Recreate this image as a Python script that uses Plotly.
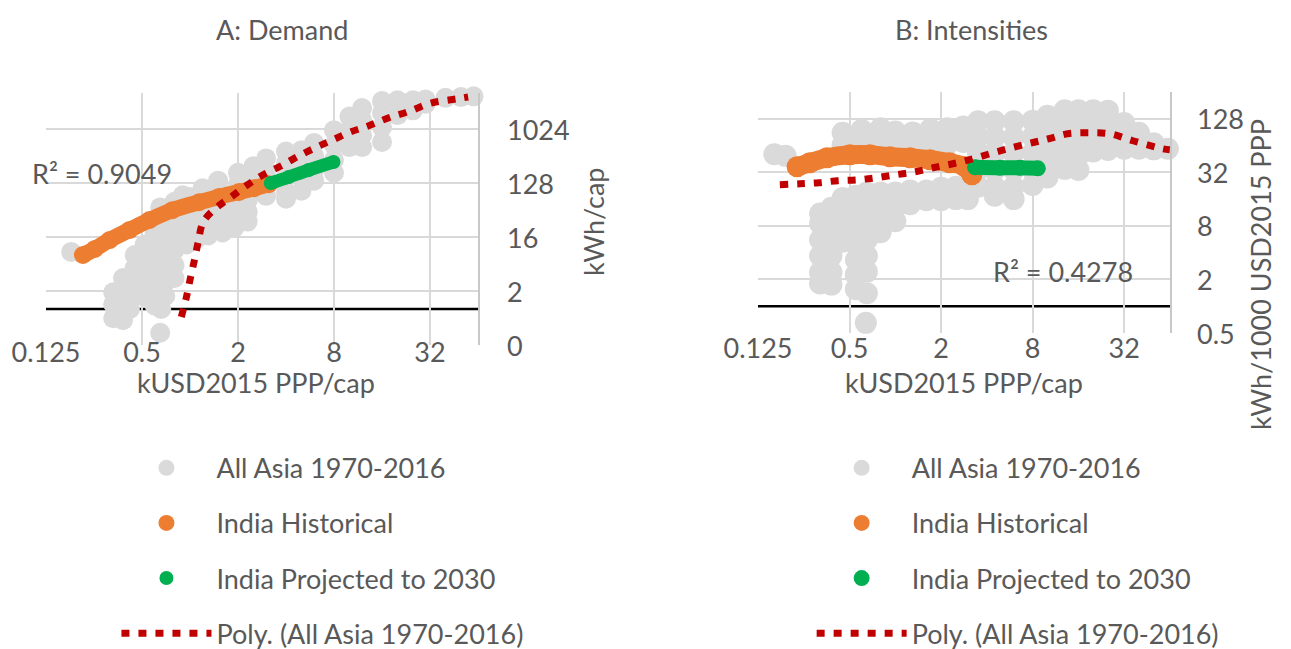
import math
import plotly.graph_objects as go

FONT = "Lato, 'Open Sans', Arial, sans-serif"
TXT = "#595959"
GRAY = "#dadada"
ORANGE = "#ed7d31"
GREEN = "#00b050"
RED = "#c00000"

# ---------------- Panel A: Demand (kWh/cap vs kUSD2015 PPP/cap) ----------------
a_asia_x = [0.18,
            0.33, 0.33, 0.33,
            0.38, 0.38, 0.38, 0.38,
            0.42,
            0.45, 0.45, 0.45, 0.45,
            0.52, 0.52, 0.52, 0.52, 0.52,
            0.6, 0.6, 0.6, 0.6, 0.6, 0.6,
            0.65, 0.66,
            0.7, 0.7, 0.7, 0.7, 0.7, 0.7,
            0.8, 0.8, 0.8, 0.8, 0.8,
            0.95, 0.95, 0.95,
            1.1, 1.1, 1.1,
            1.3, 1.3, 1.3,
            1.6, 1.6, 1.6,
            1.9, 1.9, 1.9,
            2.3, 2.3, 2.3,
            0.65, 0.8, 1.0, 1.2, 1.5,
            0.9, 0.9,
            1.2, 1.2, 1.2,
            1.5, 1.5, 1.5,
            2, 2, 2,
            2.5, 2.5, 2.5,
            3, 3, 3, 3,
            4, 4, 4, 4, 4,
            5, 5, 5, 5,
            6, 6, 6, 6,
            8, 8, 8, 8,
            10, 10, 10,
            12, 12, 12, 12,
            16, 16, 16, 16,
            20, 20,
            25, 25,
            30, 30,
            40, 50, 60]
a_asia_y = [9,
            1.9, 1.2, 0.7,
            3.3, 2, 1.2, 0.65,
            1.0,
            8, 4.9, 2.8, 1.65,
            12, 7, 4.2, 2.3, 1.6,
            19, 11, 6.6, 3.7, 2.1, 1.15,
            0.4, 1.0,
            24, 14, 8.3, 4.9, 2.8, 1.65,
            28, 17, 9.7, 5.4, 3.3,
            36, 21, 12,
            42, 25, 15,
            45, 28, 17,
            51, 31, 19,
            57, 36, 23,
            66, 42, 29,
            50, 62, 75, 90, 110,
            80, 50,
            105, 66, 45,
            140, 90, 55,
            190, 120, 75,
            245, 155, 90,
            330, 210, 130, 78,
            430, 275, 160, 90, 70,
            450, 280, 160, 95,
            600, 360, 210, 140,
            980, 550, 310, 190,
            1650, 980, 510,
            2300, 1450, 800, 510,
            3000, 1900, 1100, 620,
            3100, 1750,
            3100, 2100,
            3200, 2700,
            3400, 3500, 3600]

a_india_x = [0.213, 0.253, 0.313, 0.418, 0.557, 0.775, 1.14, 1.52, 2.03, 2.52, 3.12]
a_india_y = [8.0, 10.1, 14.2, 21, 30.8, 45, 61, 75, 90.5, 105, 122]

a_proj_x = [3.21, 4.16, 5.55, 7.94]
a_proj_y = [128, 161, 211, 287]

a_poly_x = [0.882, 0.947, 1.003, 1.063, 1.126, 1.21, 1.458, 1.81, 2.28, 2.86, 3.71,
            4.67, 6.05, 7.83, 10.1, 13.1, 17.5, 24, 32.5, 46.5, 55.5]
a_poly_y = [0.735, 1.53, 3.17, 6.35, 13.2, 28.5, 49, 74.7, 118, 174, 246,
            348, 492, 671, 911, 1150, 1565, 2048, 2780, 3250, 3510]

# ---------------- Panel B: Intensities ----------------
b_asia_x = [0.16, 0.19,
            0.45, 0.45, 0.52, 0.6, 0.6, 0.7, 0.8, 0.8, 0.9, 1.0, 1.0, 1.15, 1.3, 1.3, 1.5,
            1.7, 1.7, 1.95, 2.2, 2.2, 2.5, 2.8, 2.8,
            3.5, 3.5, 3.5, 3.5, 3.5,
            4.5, 4.5, 4.5, 4.5, 4.5, 4.5,
            6, 6, 6, 6, 6, 6,
            8, 8, 8, 8, 8,
            10, 10, 10, 10, 10,
            13, 13, 13, 13, 13,
            16, 16, 16, 16, 16,
            20, 20, 20, 20,
            25, 25, 25, 25,
            32, 32, 32,
            40, 40, 50, 50, 62,
            0.32, 0.32, 0.32, 0.32, 0.32, 0.32,
            0.38, 0.38, 0.38, 0.38, 0.38, 0.38,
            0.45, 0.45, 0.45, 0.45,
            0.55, 0.55, 0.55, 0.55, 0.55, 0.55, 0.55,
            0.65, 0.65, 0.65, 0.65, 0.65, 0.65, 0.65,
            0.64,
            0.8, 0.8, 0.8, 0.8,
            1.0, 1.0, 1.0,
            1.25, 1.25, 1.6, 1.6, 2, 2, 2.5, 2.5, 3, 3]
b_asia_y = [51, 49,
            89, 65, 80, 96, 65, 85, 100, 66, 80, 92, 66, 82, 90, 66, 80,
            98, 66, 82, 100, 66, 85, 105, 70,
            120, 80, 53, 34, 22,
            120, 80, 53, 34, 22, 17.5,
            120, 80, 53, 34, 22, 16,
            122, 80, 53, 34, 23,
            138, 92, 60, 39, 28,
            160, 112, 75, 49, 35,
            160, 112, 75, 49, 34,
            160, 110, 75, 55,
            158, 106, 72, 57,
            115, 80, 59,
            89, 59, 68, 58, 59,
            11, 8.5, 5.6, 3.7, 2.4, 1.8,
            12.8, 8.5, 5.6, 3.7, 2.4, 1.75,
            16.5, 11, 7.6, 5.3,
            17.5, 11.5, 7.6, 5, 3.3, 2.25, 1.55,
            19, 12.8, 8.5, 5.6, 3.7, 2.45, 1.4,
            0.65,
            19, 12.8, 8.5, 6.8,
            19, 12.8, 9,
            20, 14, 20, 15.5, 21.5, 15.5, 22, 16, 23, 16]

b_india_x = [0.226, 0.274, 0.355, 0.503, 0.681, 0.921, 1.25, 1.69, 2.28, 2.87, 3.19]
b_india_y = [37, 41, 46.7, 50.4, 50.4, 47.9, 46.7, 44.3, 41, 37, 30]

b_proj_x = [3.34, 4.87, 6.59, 8.65]
b_proj_y = [36.5, 36, 36, 35.5]

b_poly_x = [0.174, 0.236, 0.315, 0.42, 0.567, 0.757, 1.01, 1.35, 1.77, 2.39, 3.24,
            4.38, 5.84, 7.91, 10.2, 13.6, 18.7, 25.7, 36.5, 57.4, 63.8]
b_poly_y = [23.2, 23.8, 24.5, 25.8, 26.4, 27.9, 30.1, 32.5, 36, 40, 45.5,
            53, 60.5, 68.8, 76.3, 86.9, 89.1, 86.9, 72.5, 58.9, 57.4]

# axis ticks
x_ticks = [0.125, 0.5, 2, 8, 32]
x_ticktext = ["0.125", "0.5", "2", "8", "32"]
a_y_ticks = [0.25, 2, 16, 128, 1024]
a_y_ticktext = ["0", "2", "16", "128", "1024"]
b_y_ticks = [0.5, 2, 8, 32, 128]
b_y_ticktext = ["0.5", "2", "8", "32", "128"]

NAMES = ["All Asia 1970-2016", "India Historical", "India Projected to 2030",
         "Poly. (All Asia 1970-2016)"]

fig = go.Figure()


def add_panel(xa, ya, leg, gx, gy, ix, iy, px_, py_, tx, ty, gsize, iw, isz, pw, psz):
    fig.add_trace(go.Scatter(x=gx, y=gy, mode="markers", name=NAMES[0], xaxis=xa, yaxis=ya,
                             legend=leg, legendgroup=leg + "g", cliponaxis=False,
                             marker=dict(color=GRAY, size=gsize, line=dict(width=0))))
    fig.add_trace(go.Scatter(x=ix, y=iy, mode="lines", xaxis=xa, yaxis=ya, showlegend=False,
                             legend=leg, line=dict(color=ORANGE, width=iw, shape="spline"),
                             cliponaxis=False, hoverinfo="skip"))
    fig.add_trace(go.Scatter(x=ix, y=iy, mode="markers", name=NAMES[1], xaxis=xa, yaxis=ya,
                             legend=leg, legendgroup=leg + "o", cliponaxis=False,
                             marker=dict(color=ORANGE, size=isz, line=dict(width=0))))
    fig.add_trace(go.Scatter(x=px_, y=py_, mode="lines", xaxis=xa, yaxis=ya, showlegend=False,
                             legend=leg, line=dict(color=GREEN, width=pw, shape="spline"),
                             cliponaxis=False, hoverinfo="skip"))
    fig.add_trace(go.Scatter(x=px_, y=py_, mode="markers", name=NAMES[2], xaxis=xa, yaxis=ya,
                             legend=leg, legendgroup=leg + "p", cliponaxis=False,
                             marker=dict(color=GREEN, size=psz, line=dict(width=0))))
    fig.add_trace(go.Scatter(x=tx, y=ty, mode="lines", name=NAMES[3], xaxis=xa, yaxis=ya,
                             legend=leg, legendgroup=leg + "t", cliponaxis=False,
                             line=dict(color=RED, width=7, dash="8px,9px", shape="spline")))


add_panel("x", "y", "legend", a_asia_x, a_asia_y, a_india_x, a_india_y, a_proj_x, a_proj_y,
          a_poly_x, a_poly_y, 20, 16, 18, 13, 14)
add_panel("x2", "y2", "legend2", b_asia_x, b_asia_y, b_india_x, b_india_y, b_proj_x, b_proj_y,
          b_poly_x, b_poly_y, 22, 19, 21, 15, 16)

tickfont = dict(family=FONT, size=27, color=TXT)
xcommon = dict(type="log", tickvals=x_ticks, ticktext=x_ticktext, showgrid=True,
               gridcolor="#d9d9d9", gridwidth=1.5, zeroline=False, showline=False,
               ticks="", tickfont=tickfont, range=[-0.90309, 1.80618], automargin=False)
ycommon = dict(type="log", side="right", showgrid=True, gridcolor="#d9d9d9", gridwidth=1.5,
               zeroline=False, showline=True, linecolor="#c8c8c8", linewidth=1.5,
               ticks="", showticklabels=False, automargin=False)

fig.update_layout(
    width=1291, height=649, margin=dict(l=0, r=0, t=0, b=0, autoexpand=False),
    paper_bgcolor="white", plot_bgcolor="white",
    font=dict(family=FONT, size=27, color=TXT),
    xaxis=dict(domain=[0.03563, 0.37026], anchor="y", ticklabelstandoff=-11, **xcommon),
    yaxis=dict(domain=[0.46841, 0.85670], anchor="x", tickvals=a_y_ticks,
               range=[-0.60206, 3.61236], **ycommon),
    xaxis2=dict(domain=[0.58714, 0.90627], anchor="y2", ticklabelstandoff=-3, **xcommon),
    yaxis2=dict(domain=[0.48690, 0.85824], anchor="x2", tickvals=b_y_ticks,
                range=[-0.30103, 2.40824], **ycommon),
    legend=dict(x=0.0902, xanchor="left", y=0.3162, yanchor="top", itemwidth=90,
                tracegroupgap=17, bgcolor="rgba(0,0,0,0)",
                font=dict(family=FONT, size=27, color=TXT)),
    legend2=dict(x=0.6287, xanchor="left", y=0.3162, yanchor="top", itemwidth=90,
                 tracegroupgap=17, bgcolor="rgba(0,0,0,0)",
                 font=dict(family=FONT, size=27, color=TXT)),
    showlegend=True,
)

# black horizontal axis line crossing at y = 1
for xr, yr in (("x", "y"), ("x2", "y2")):
    fig.add_shape(type="line", xref=xr + " domain", x0=0, x1=1, yref=yr, y0=1, y1=1,
                  line=dict(color="black", width=2.5), layer="below")

ann = dict(showarrow=False, font=dict(family=FONT, size=27, color=TXT))
# right-hand value-axis tick labels, positioned on the axis scale
for v, t in zip(a_y_ticks, a_y_ticktext):
    fig.add_annotation(text=t, xref="paper", x=0.3912, xanchor="left",
                       yref="y", y=math.log10(v), yanchor="middle", **ann)
for v, t in zip(b_y_ticks, b_y_ticktext):
    fig.add_annotation(text=t, xref="paper", x=0.9257, xanchor="left",
                       yref="y2", y=math.log10(v), yanchor="middle", **ann)

pann = dict(xref="paper", yref="paper", xanchor="center", yanchor="middle", **ann)
fig.add_annotation(text="A: Demand", x=0.2184, y=0.9538, **pann)
fig.add_annotation(text="B: Intensities", x=0.7529, y=0.9538, **pann)
fig.add_annotation(text="kUSD2015 PPP/cap", x=0.1983, y=0.4099, **pann)
fig.add_annotation(text="kUSD2015 PPP/cap", x=0.7467, y=0.4099, **pann)
fig.add_annotation(text="kWh/cap", x=0.4593, y=0.6579, textangle=-90, **pann)
fig.add_annotation(text="kWh/1000 USD2015 PPP", x=0.9768, y=0.5763, textangle=-90, **pann)
fig.add_annotation(text="R² = 0.9049", x=0.079, y=0.7334, **pann)
fig.add_annotation(text="R² = 0.4278", x=0.8234, y=0.5809, **pann)

fig.write_html("out.html", config={"displayModeBar": False},
               post_script="document.body.style.margin='0';")
